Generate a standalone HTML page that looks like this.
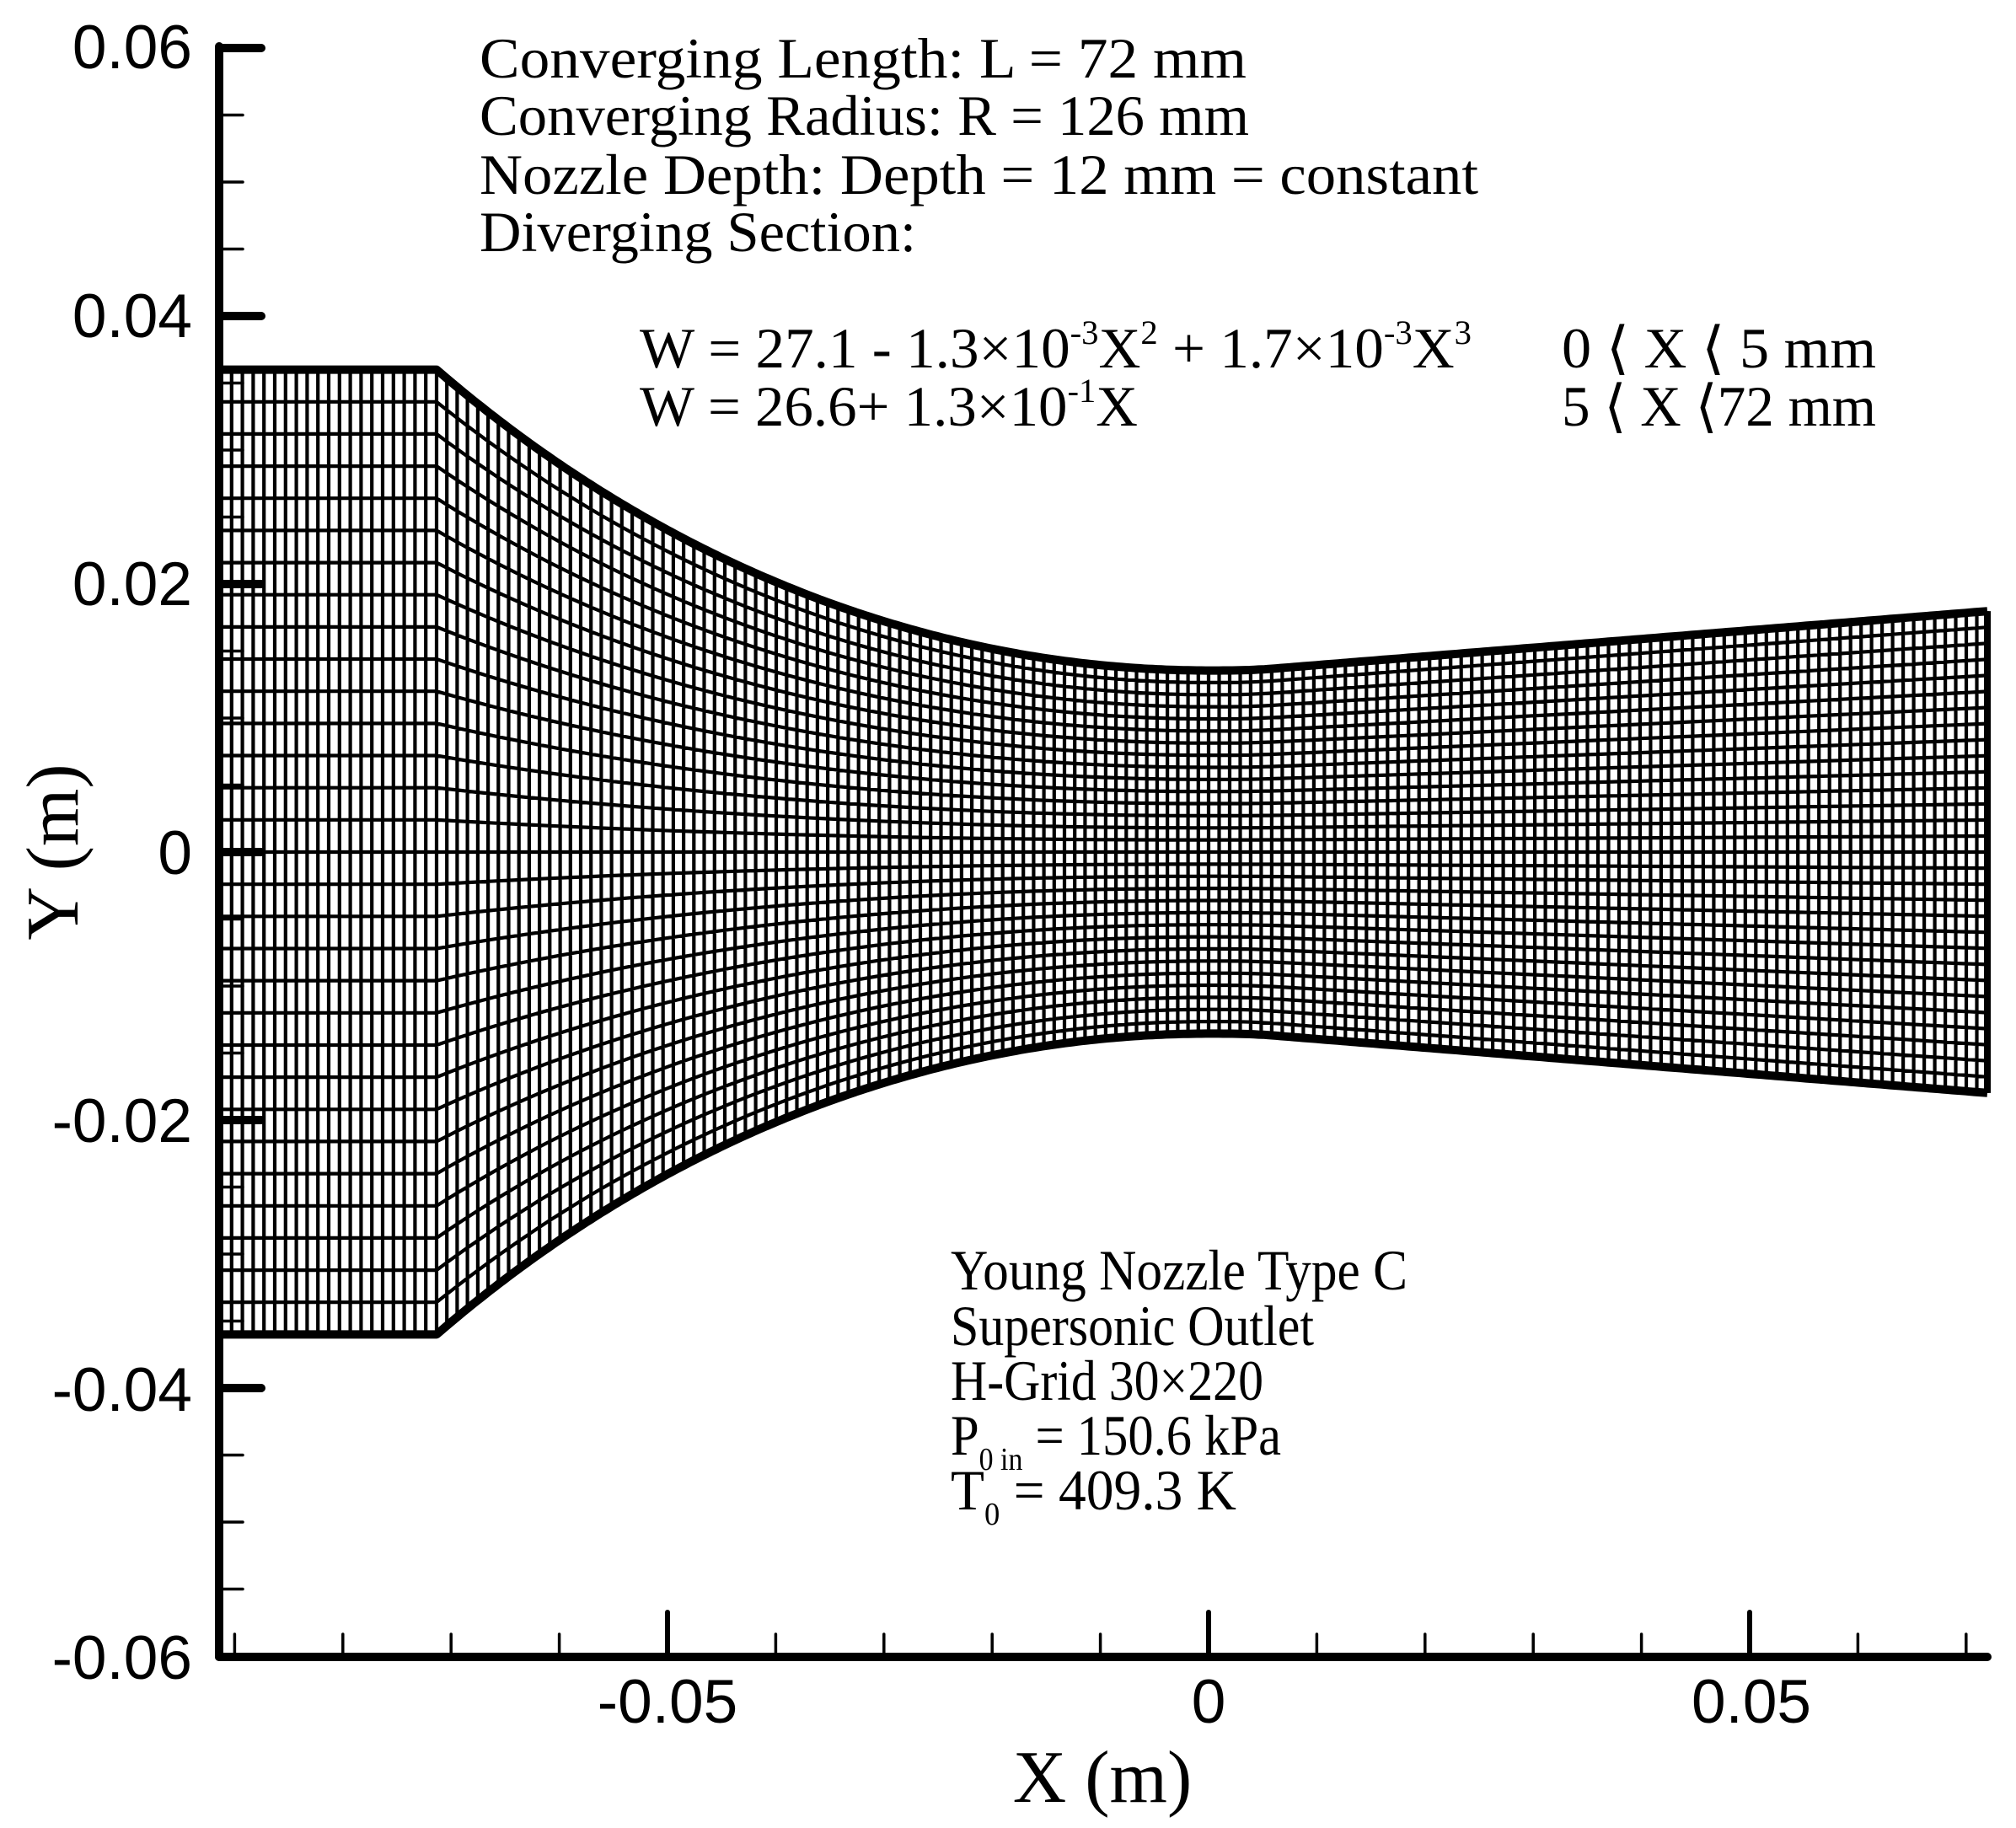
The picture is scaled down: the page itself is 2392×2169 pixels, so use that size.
<!DOCTYPE html>
<html><head><meta charset="utf-8"><style>
html,body{margin:0;padding:0;background:#fff}
svg{display:block}
.t{font-family:"Liberation Serif",serif;white-space:pre}
.s{font-family:"Liberation Sans",sans-serif}
</style></head><body>
<svg id="c" width="2392" height="2169" viewBox="0 0 2392 2169" xmlns="http://www.w3.org/2000/svg" xml:space="preserve">
<rect width="2392" height="2169" fill="#fff"/>
<g id="grid" fill="none" stroke="#000" stroke-width="4.2"></g>
<g id="walls" fill="none" stroke="#000" stroke-width="10" stroke-linejoin="round"></g>
<g id="axes" stroke="#000" stroke-linecap="round"></g>
<g class="s" font-size="73" text-anchor="end" fill="#000">
<text x="228" y="81">0.06</text>
<text x="228" y="400">0.04</text>
<text x="228" y="718">0.02</text>
<text x="228" y="1037">0</text>
<text x="228" y="1355">-0.02</text>
<text x="228" y="1674">-0.04</text>
<text x="228" y="1992">-0.06</text>
</g>
<g class="s" font-size="73" text-anchor="middle" fill="#000">
<text x="792" y="2044">-0.05</text>
<text x="1434" y="2044">0</text>
<text x="2078" y="2044">0.05</text>
</g>
<text class="t" font-size="88" x="1308" y="2138" text-anchor="middle">X (m)</text>
<text class="t" font-size="88" transform="translate(92,1011) rotate(-90)" text-anchor="middle">Y (m)</text>
<g class="t" font-size="68" fill="#000">
<text x="569" y="92" textLength="910" lengthAdjust="spacingAndGlyphs">Converging Length: L =  72  mm</text>
<text x="569" y="160" textLength="913" lengthAdjust="spacingAndGlyphs">Converging Radius: R = 126 mm</text>
<text x="569" y="230" textLength="1185" lengthAdjust="spacingAndGlyphs">Nozzle Depth: Depth   = 12 mm = constant</text>
<text x="569" y="298" textLength="518" lengthAdjust="spacingAndGlyphs">Diverging Section:</text>
<text x="759" y="436" textLength="987" lengthAdjust="spacingAndGlyphs">W = 27.1 - 1.3×10<tspan dy="-28" font-size="40">-3</tspan><tspan dy="28">X</tspan><tspan dy="-28" font-size="40">2</tspan><tspan dy="28"> + 1.7×10</tspan><tspan dy="-28" font-size="40">-3</tspan><tspan dy="28">X</tspan><tspan dy="-28" font-size="40">3</tspan></text>
<text x="1853" y="436" textLength="373" lengthAdjust="spacingAndGlyphs">0 ⟨ X ⟨ 5  mm</text>
<text x="759" y="505" textLength="591" lengthAdjust="spacingAndGlyphs">W = 26.6+ 1.3×10<tspan dy="-28" font-size="40">-1</tspan><tspan dy="28">X</tspan></text>
<text x="1853" y="505" textLength="373" lengthAdjust="spacingAndGlyphs">5 ⟨ X ⟨72 mm</text>
</g>
<g class="t" font-size="68" fill="#000">
<text x="1128" y="1530" textLength="542" lengthAdjust="spacingAndGlyphs">Young Nozzle Type C</text>
<text x="1128" y="1596" textLength="431" lengthAdjust="spacingAndGlyphs">Supersonic Outlet</text>
<text x="1128" y="1661" textLength="371" lengthAdjust="spacingAndGlyphs">H-Grid 30×220</text>
<text x="1128" y="1726" textLength="392" lengthAdjust="spacingAndGlyphs">P<tspan dy="18" font-size="38">0 in</tspan><tspan dy="-18"> = 150.6 kPa</tspan></text>
<text x="1128" y="1791" textLength="339" lengthAdjust="spacingAndGlyphs">T<tspan dy="18" font-size="38">0</tspan><tspan dy="-18">    = 409.3 K</tspan></text>
</g>
</svg>
<script>
(function(){
var NS="http://www.w3.org/2000/svg";
function px(x){return 1434+x*12840;}
function py(y){return 1011-y*15900;}
var xk=(518-1434)/12840, xe=(2358-1434)/12840, xa=(262-1434)/12840;
var yIn=0.036, yT=0.01355;
var R=0.126, dk=R-Math.sqrt(R*R-xk*xk);
function h(x){
 if(x<=xk) return yIn;
 if(x<=0){var d=R-Math.sqrt(R*R-x*x);return yT+(yIn-yT)*d/dk;}
 var m=x*1000,W;
 if(m<5) W=27.1-1.3e-3*m*m+1.7e-3*m*m*m; else W=26.6+0.13*m;
 return W/2000;
}
var xs=[];
var ni=20;for(var i=0;i<ni;i++) xs.push(xa+(xk-xa)*i/ni);
var nc=75;for(var i=0;i<nc;i++) xs.push(xk+(0-xk)*i/nc);
var nd=74;for(var i=0;i<=nd;i++) xs.push(xe*i/nd);
var g=document.getElementById("grid"),d="";
for(var i=0;i<xs.length;i++){var x=xs[i],hh=h(x);d+="M"+px(x).toFixed(1)+" "+py(hh).toFixed(1)+"V"+py(-hh).toFixed(1);}
var NJ=30;
for(var j=1;j<NJ;j++){var f=-1+2*j/NJ;d+="M";for(var i=0;i<xs.length;i++){var x=xs[i];d+=(i?"L":"")+px(x).toFixed(1)+" "+py(f*h(x)).toFixed(1);}}
var p=document.createElementNS(NS,"path");p.setAttribute("d",d);g.appendChild(p);
var w=document.getElementById("walls");
[1,-1].forEach(function(s){var n=400;
 var pts=[];for(var i=0;i<=n;i++){pts.push(xa+(xe-xa)*i/n);}pts.push(xk);pts.push(0);pts.sort(function(a,b){return a-b});
 var dd="";pts.forEach(function(x,i){dd+=(i?"L":"M")+px(x).toFixed(1)+" "+py(s*h(x)).toFixed(1);});
 var q=document.createElementNS(NS,"path");q.setAttribute("d",dd);w.appendChild(q);});
var q=document.createElementNS(NS,"path");q.setAttribute("d","M"+px(xe)+" "+py(h(xe))+"V"+py(-h(xe)));q.setAttribute("stroke-width","8");w.appendChild(q);
var a=document.getElementById("axes");
function line(x1,y1,x2,y2,sw){var l=document.createElementNS(NS,"line");l.setAttribute("x1",x1);l.setAttribute("y1",y1);l.setAttribute("x2",x2);l.setAttribute("y2",y2);l.setAttribute("stroke-width",sw);a.appendChild(l);}
line(260,55,260,1966,10);line(260,1966,2358,1966,10);
for(var k=0;k<=24;k++){var yv=0.06-k*0.005,yy=py(yv);if(k%4==0){if(k<24)line(260,yy,310,yy,10);}else line(260,yy,288,yy,3.5);}
for(var k=-9;k<=7;k++){var xx=px(k*0.01);if(k==-5||k==0||k==5)line(xx,1966,xx,1913,6);else line(xx,1966,xx,1939,3.5);}
})();
</script>
</body></html>
